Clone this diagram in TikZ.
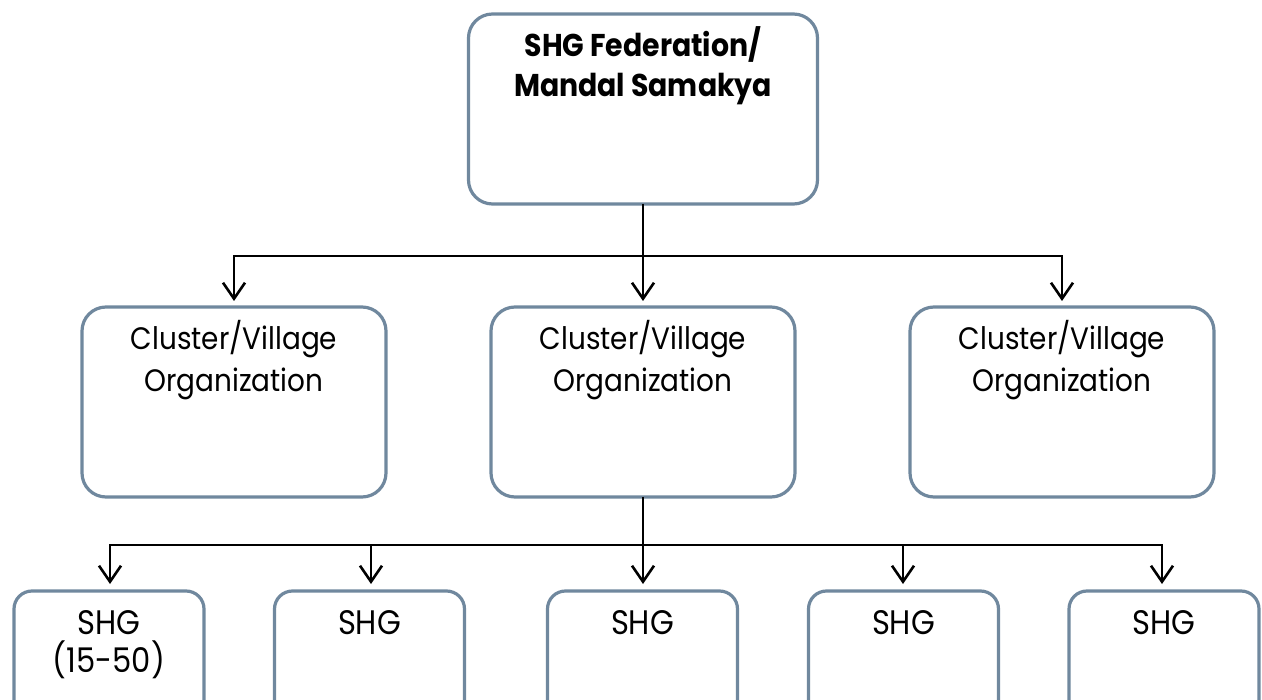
\documentclass[tikz,border=0pt]{standalone}
\usepackage{fontspec}
\setmainfont{Poppins}[FakeStretch=0.9]
\usetikzlibrary{arrows.meta}
\definecolor{boxline}{RGB}{112,136,158}
\tikzset{
  box/.style={draw=boxline, line width=3.2pt, rounded corners=24pt, fill=white, inner sep=0pt, outer sep=0pt},
  sbox/.style={box, rounded corners=18pt},
  conn/.style={draw=black, line width=2.6pt, -{Straight Barb[length=16pt,width=22pt,line width=2.6pt]}},
  plain/.style={draw=black, line width=2.6pt},
  txt/.style={anchor=base, inner sep=0pt, font=\fontsize{31}{34}\selectfont},
  btxt/.style={anchor=base, inner sep=0pt, font=\fontsize{31.5}{34}\selectfont\bfseries},
  stxt/.style={anchor=base, inner sep=0pt, font=\fontsize{34}{36}\selectfont}
}
\begin{document}
\begin{tikzpicture}[x=1pt,y=-1pt]
\useasboundingbox (0,0) rectangle (1262,700);
\clip (0,0) rectangle (1262,700);
% top
\node[box, minimum width=349pt, minimum height=190pt] (top) at (643,109) {};
\node[btxt] (t1) at (643,57) {SHG Federation/};
\node[btxt] (t2) at (643,97) {Mandal Samakya};
% middle
\foreach \n/\x in {mL/234, mC/643, mR/1062}{
  \node[box, minimum width=304pt, minimum height=190pt] (\n) at (\x,402) {};
  \node[txt] (\n a) at (\x,350) {Cluster/Village};
  \node[txt] (\n b) at (\x,392) {Organization};
}
% bottom
\foreach \n/\x in {b1/109, b2/369.5, b3/642.5, b4/903.5, b5/1164}{
  \node[sbox, minimum width=190pt, minimum height=139pt] (\n) at (\x,660.5) {};
  \node[stxt] (\n a) at (\x,634) {SHG};
}
\node[stxt] (b1b) at (109,672) {(15-50)};
% connectors top -> middle
\coordinate (j1) at (643,256);
\draw[plain] (top.south) -- (j1);
\draw[conn, shorten >=6pt] (j1) -| (mL.north);
\draw[conn, shorten >=6pt] (j1) -- (mC.north);
\draw[conn, shorten >=6pt] (j1) -| (mR.north);
% connectors middle -> bottom
\coordinate (j2) at (643,545);
\draw[plain] (mC.south) -- (j2);
\draw[conn, shorten >=7pt] (j2) -| ([xshift=1pt]b1.north);
\draw[conn, shorten >=7pt] (j2) -| ([xshift=1.5pt]b2.north);
\draw[conn, shorten >=7pt] (j2) -- ([xshift=0.5pt]b3.north);
\draw[conn, shorten >=7pt] (j2) -| ([xshift=-0.5pt]b4.north);
\draw[conn, shorten >=7pt] (j2) -| ([xshift=-2pt]b5.north);
\end{tikzpicture}
\end{document}
